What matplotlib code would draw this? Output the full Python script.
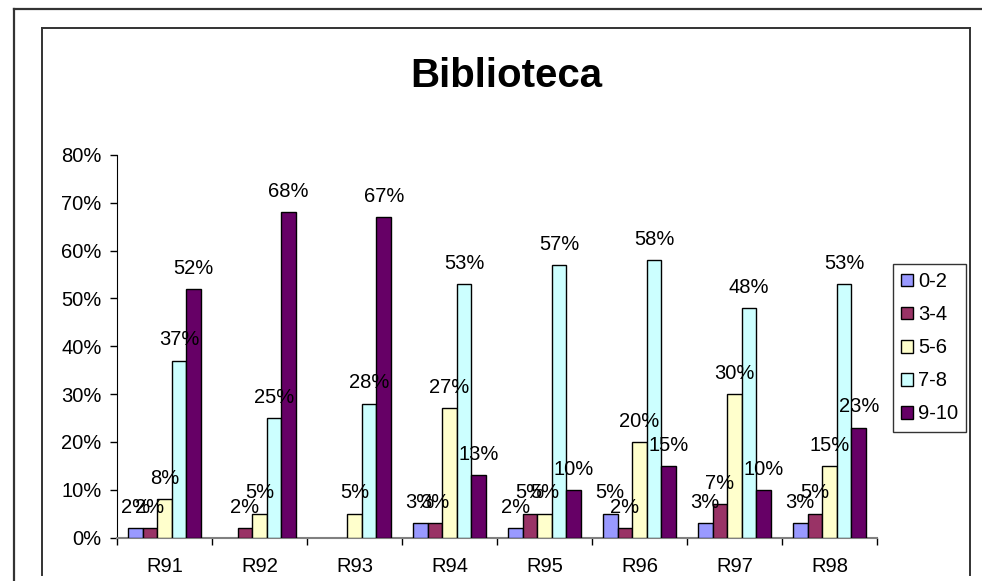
import numpy as np
import matplotlib
matplotlib.use("Agg")
import matplotlib.pyplot as plt
from matplotlib.lines import Line2D

plt.rcParams['font.family'] = ['Liberation Sans', 'DejaVu Sans']

grupos = ['R91', 'R92', 'R93', 'R94', 'R95', 'R96', 'R97', 'R98']
series = ['0-2', '3-4', '5-6', '7-8', '9-10']
v_0_2 = [2, np.nan, np.nan, 3, 2, 5, 3, 3]
v_3_4 = [2, 2, np.nan, 3, 5, 2, 7, 5]
v_5_6 = [8, 5, 5, 27, 5, 20, 30, 15]
v_7_8 = [37, 25, 28, 53, 57, 58, 48, 53]
v_9_10 = [52, 68, 67, 13, 10, 15, 10, 23]
colores = ['#9999FF', '#993366', '#FFFFCC', '#CCFFFF', '#660066']

valores = [v_0_2, v_3_4, v_5_6, v_7_8, v_9_10]

W, H = 982, 581
fs = 14.5
fig = plt.figure(figsize=(W/100, H/100), dpi=100)

# frames around the chart
def linea(x0, y0, x1, y1, lw, c):
    fig.add_artist(Line2D([x0/W, x1/W], [1-y0/H, 1-y1/H], lw=lw, color=c,
                          transform=fig.transFigure))

linea(14, 9, 982, 9, 1.6, '#333333')
linea(14, 9, 14, 581, 1.6, '#333333')
linea(42, 28, 970, 28, 1.4, '#333333')
linea(42, 28, 42, 575, 1.4, '#333333')
linea(970, 28, 970, 575, 1.4, '#333333')

ax = fig.add_axes([117/W, 1-537.7/H, 760/W, (537.7-154.8)/H])

x = np.arange(len(grupos))
w = 1/6.5
for k, (nombre, vals, col) in enumerate(zip(series, valores, colores)):
    pos = x + (k - 2) * w
    ax.bar(pos, vals, width=w, color=col, edgecolor='black', linewidth=1.0,
           label=nombre, zorder=3)
    for p, v in zip(pos, vals):
        if np.isnan(v):
            continue
        ax.annotate(f'{v:.0f}%', (p, v), xytext=(0, 11), textcoords='offset points',
                    ha='center', va='baseline', fontsize=fs, zorder=10)

ax.set_xlim(-0.5, len(grupos) - 0.5)
ax.set_ylim(0, 80)
ax.set_yticks(np.arange(0, 81, 10))
ax.set_yticklabels([f'{t}%' for t in range(0, 81, 10)], fontsize=fs)
ax.set_xticks(x)
ax.set_xticklabels(grupos, fontsize=fs)
ax.set_xticks(np.arange(-0.5, len(grupos), 1), minor=True)
ax.tick_params(axis='x', which='major', length=0, pad=14)
ax.tick_params(axis='x', which='minor', length=5, width=1, color='black')
ax.tick_params(axis='y', length=5, width=1, pad=6)

for s in ['top', 'right']:
    ax.spines[s].set_visible(False)
ax.spines['left'].set_color('black')
ax.spines['bottom'].set_color('#808080')
ax.spines['bottom'].set_linewidth(1.5)

fig.text(506/W, 1-87/H, 'Biblioteca', ha='center', va='baseline',
         fontsize=29, fontweight='bold')

leg = fig.legend(loc='upper left', bbox_to_anchor=(893/W, 1-264/H), fontsize=fs,
                 frameon=True, fancybox=False, edgecolor='black',
                 handlelength=0.6, handleheight=0.6, handletextpad=0.25,
                 labelspacing=0.7, borderpad=0.4, borderaxespad=0)
leg.get_frame().set_linewidth(1.0)

fig.savefig('out.png', dpi=100)
